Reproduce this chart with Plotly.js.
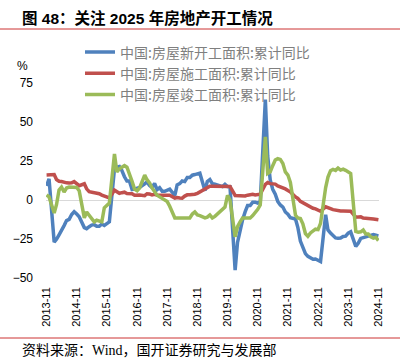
<!DOCTYPE html>
<html>
<head>
<meta charset="utf-8">
<script src="https://cdn.plot.ly/plotly-3.0.1.min.js"></script>
<style>
  html, body { margin: 0; padding: 0; background: #fff; }
  #chart { width: 404px; height: 364px; }
</style>
</head>
<body>
<div id="chart"></div>
<script>
// Monthly cumulative YoY (%), Jan omitted (Jan–Feb reported together)
const startYear = 2013, startMonth = 11, endYear = 2024, endMonth = 11;

const seriesNames = [
  "中国:房屋新开工面积:累计同比",
  "中国:房屋施工面积:累计同比",
  "中国:房屋竣工面积:累计同比"
];

// 新开工面积 累计同比
const newStarts = [
  9.0, 13.5,
  -27.0, -25.2, -22.3, -19.8, -16.4, -13.2, -12.4, -9.3, -7.5, -9.0, -10.7,
  -17.7, -18.4, -17.1, -16.1, -15.8, -16.8, -16.8, -15.4, -16.3, -15.1, -14.0,
  20.0, 21.0, 21.4, 18.9, 14.9, 12.1, 12.1, 6.7, 7.0, 7.6, 8.1,
  10.4, 11.6, 9.3, 8.1, 10.6, 6.6, 7.9, 5.6, 5.6, 6.4, 7.0,
  2.9, 9.7, 10.5, 12.2, 11.8, 14.4, 14.4, 15.9, 16.3, 16.8, 17.2,
  6.0, 11.9, 13.1, 10.5, 10.1, 9.5, 8.9, 8.6, 10.0, 8.6, 8.5,
  -44.9, -27.2, -18.4, -12.8, -7.6, -3.6, -3.6, -1.4, -1.4, -2.0, -1.2,
  64.3, 28.2, 12.8, 6.9, 3.8, -0.9, -3.2, -4.5, -7.7, -9.1, -11.4,
  -12.2, -17.5, -26.3, -30.6, -34.4, -36.1, -37.2, -38.0, -37.8, -38.9, -39.4,
  -9.4, -19.2, -21.2, -22.6, -24.3, -24.5, -24.4, -23.4, -23.2, -21.2, -20.4,
  -29.7, -27.8, -24.6, -24.2, -23.7, -23.2, -22.5, -22.2, -22.6, -23.0
];

// 施工面积 累计同比
const underConstruction = [
  16.1, 16.1,
  16.3, 13.1, 12.0, 11.8, 11.2, 11.0, 10.9, 11.0, 11.8, 10.5, 9.2,
  10.4, 7.2, 5.3, 5.1, 4.9, 4.7, 4.0, 3.1, 2.5, 2.1, 1.3,
  6.3, 5.0, 4.3, 4.7, 5.0, 4.2, 4.0, 4.0, 3.1, 3.2, 3.2,
  2.8, 4.0, 3.8, 3.3, 3.7, 3.1, 3.1, 2.9, 3.0, 3.1, 3.0,
  1.2, 1.6, 1.3, 1.2, 2.5, 3.3, 3.4, 3.5, 3.7, 4.3, 5.2,
  6.8, 8.2, 8.8, 8.8, 8.8, 9.0, 8.8, 8.7, 9.0, 8.7, 8.7,
  2.9, 2.7, 2.5, 2.6, 2.6, 3.1, 3.3, 3.6, 3.2, 3.2, 3.7,
  10.0, 11.2, 10.5, 10.1, 10.2, 9.0, 8.4, 7.9, 7.1, 6.1, 5.2,
  2.0, 1.0, -0.9, -1.8, -2.8, -3.7, -4.5, -5.3, -5.7, -6.5, -7.2,
  -4.4, -5.2, -5.6, -6.2, -6.6, -6.8, -7.1, -7.1, -7.3, -7.2, -7.2,
  -11.0, -11.1, -10.8, -11.6, -11.6, -12.1, -12.0, -12.2, -12.4, -12.7
];

// 竣工面积 累计同比
const completions = [
  3.2, 2.0,
  -8.3, -3.0, 6.4, 8.3, 5.1, 7.7, 8.3, 8.3, 8.0, 8.0, 5.9,
  -11.5, -7.7, -10.0, -11.5, -14.0, -13.0, -13.5, -14.0, -5.0, -3.2, -2.0,
  29.5, 18.0, 20.0, 21.0, 22.0, 21.0, 17.0, 12.0, 7.0, 6.0, 7.7,
  16.0, 13.0, 11.0, 7.7, 5.0, 3.0, 2.0, 1.0, 0.0, -1.0, -4.0,
  -11.5, -11.5, -11.5, -11.0, -11.0, -11.5, -11.5, -9.0, -7.7, -9.6, -10.0,
  -11.5, -11.0, -9.6, -11.5, -10.5, -9.0, -7.7, -6.0, -4.5, 3.0, 0.0,
  -23.6, -17.0, -14.0, -11.5, -11.5, -11.5, -11.5, -10.0, -8.3, -6.0, -3.2,
  40.4, 17.0, 18.0, 22.0, 25.6, 26.5, 26.0, 23.4, 18.0, 16.0, 11.2,
  -9.8, -11.5, -11.9, -15.3, -21.5, -23.3, -21.1, -19.9, -18.7, -19.0, -15.0,
  8.0, 14.7, 18.8, 19.6, 19.0, 20.5, 19.2, 19.8, 19.0, 17.9, 17.0,
  -20.2, -20.7, -20.4, -19.2, -21.8, -21.8, -23.6, -24.4, -23.9, -26.0
];

const tickLabels = ["2013-11","2014-11","2015-11","2016-11","2017-11","2018-11",
  "2019-11","2020-11","2021-11","2022-11","2023-11","2024-11"];
const yTicks = [-50, -25, 0, 25, 50, 75];

// month dates (January omitted)
const dates = [];
for (let y = startYear; y <= endYear; y++) {
  for (let m = 1; m <= 12; m++) {
    if (y === startYear && m < startMonth) continue;
    if (y === endYear && m > endMonth) continue;
    if (m === 1) continue;
    dates.push(y + "-" + String(m).padStart(2, "0") + "-01");
  }
}
const tickVals = tickLabels.map(t => t + "-01");

const colors = ["#4f81bd", "#c0504d", "#9bbb59"];
const seriesData = [newStarts, underConstruction, completions];

const traces = seriesData.map((vals, i) => ({
  x: dates, y: vals, type: "scatter", mode: "lines",
  name: seriesNames[i],
  line: { color: colors[i], width: 3.5 },
  hoverinfo: "skip"
}));

const xRange = ["2013-10-25", "2024-11-08"];
const yRange = [-50, 75];
const zeroPos = (0 - yRange[0]) / (yRange[1] - yRange[0]);

const W = 404, H = 364, M = { l: 46, r: 25, t: 83, b: 86 };
const pw = W - M.l - M.r, ph = H - M.t - M.b;
const px2x = px => (px - M.l) / pw;
const py2y = py => (H - M.b - py) / ph;

const layout = {
  width: W, height: H,
  margin: M,
  paper_bgcolor: "#ffffff",
  plot_bgcolor: "#ffffff",
  showlegend: true,
  font: { family: "Liberation Sans, Arial, Noto Sans CJK SC", color: "#000" },
  title: {
    text: "图 48：关注 2025 年房地产开工情况",
    xref: "container", yref: "container",
    x: 22 / W, xanchor: "left",
    y: 1 - 19 / H, yanchor: "middle",
    font: { family: "Liberation Sans, Noto Sans CJK SC", size: 15.5, weight: "bold", color: "#000" }
  },
  xaxis: {
    type: "date", range: xRange,
    tickvals: tickVals, ticktext: tickLabels,
    tickangle: -90, ticks: "", showline: false, showgrid: false, zeroline: false,
    tickfont: { size: 11, family: "Liberation Sans, Arial", color: "#000" },
    ticklabelstandoff: 6
  },
  xaxis2: {
    type: "date", range: xRange, overlaying: "x", anchor: "free", position: zeroPos,
    tickvals: tickVals, showticklabels: false,
    showline: true, linecolor: "#d9d9d9", linewidth: 1,
    ticks: "outside", ticklen: 4, tickcolor: "#d9d9d9", tickwidth: 1,
    showgrid: false, zeroline: false, layer: "below traces"
  },
  yaxis: {
    range: yRange, tickvals: yTicks, ticks: "", showline: false, showgrid: false,
    zeroline: true, zerolinecolor: "#d9d9d9", zerolinewidth: 1,
    tickfont: { size: 12, family: "Liberation Sans, Arial", color: "#000" },
    ticklabelstandoff: 12
  },
  legend: {
    x: px2x(80), y: py2y(36.5), xanchor: "left", yanchor: "top",
    bgcolor: "rgba(0,0,0,0)",
    font: { family: "Noto Sans CJK SC", size: 14, color: "#7f7f7f" },
    itemwidth: 30
  },
  shapes: [
    { type: "line", xref: "paper", yref: "paper", x0: px2x(0), x1: px2x(400), y0: py2y(29), y1: py2y(29),
      line: { color: "#cc3333", width: 1 } },
    { type: "line", xref: "paper", yref: "paper", x0: px2x(0), x1: px2x(400), y0: py2y(338), y1: py2y(338),
      line: { color: "#cc3333", width: 1 } }
  ],
  annotations: [
    { text: "%", xref: "paper", yref: "paper", x: px2x(22.5), y: py2y(65.5),
      xanchor: "center", yanchor: "middle", showarrow: false,
      font: { size: 12, family: "Liberation Sans, Arial", color: "#000" } },
    { text: "资料来源：Wind，国开证券研究与发展部", xref: "paper", yref: "paper",
      x: px2x(20), y: py2y(350), xanchor: "left", yanchor: "middle", showarrow: false,
      font: { size: 14, family: "Liberation Serif, Noto Sans CJK SC", color: "#000" } }
  ]
};

Plotly.newPlot("chart", traces, layout, { displayModeBar: false, staticPlot: true });
</script>
</body>
</html>
